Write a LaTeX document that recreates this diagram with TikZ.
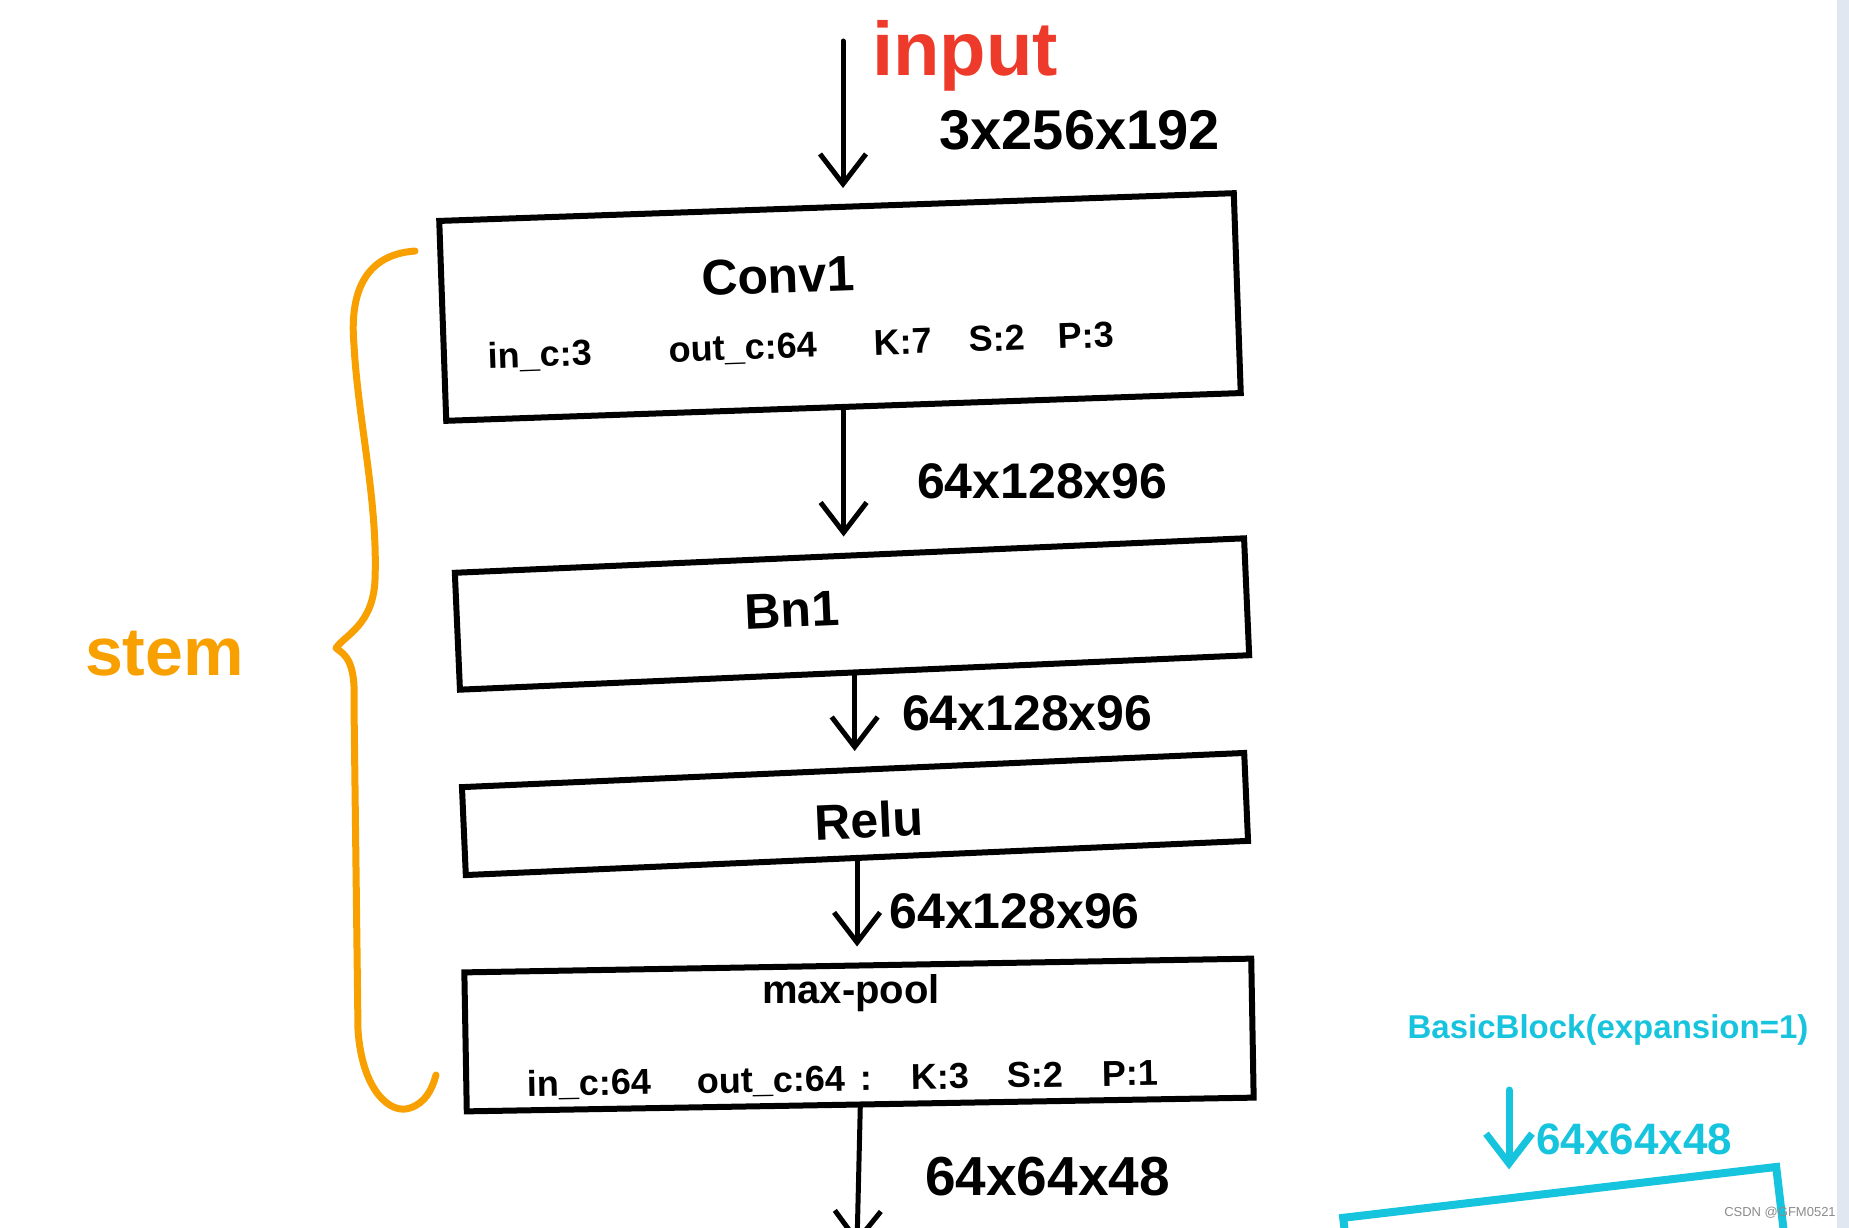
\documentclass[tikz,border=0pt]{standalone}
\usepackage{fontspec}
\setmainfont{Liberation Sans}
\usetikzlibrary{arrows.meta,positioning}
\definecolor{inred}{HTML}{EE3A2A}
\definecolor{stemorange}{HTML}{F7A000}
\definecolor{blockcyan}{HTML}{17C4DE}
\definecolor{stripgray}{HTML}{E1E7F0}
\newcommand{\sizeat}[1]{\fontsize{#1pt}{#1pt}\selectfont\bfseries}
\tikzset{every node/.style={align=center, inner sep=0pt}, >={Straight Barb[length=30pt,width=46pt]},
  layer/.style={draw, line width=6pt},
  title/.style={font=\sizeat{50}},
  parm/.style={font=\sizeat{36}},
  dim/.style={font=\sizeat{50}},
  flow/.style={->, line width=5pt, line cap=round, line join=round, shorten >=16pt}}

\begin{document}
\begin{tikzpicture}[x=1pt, y=-1pt]
\useasboundingbox[fill=white] (0,0) rectangle (1849,1228);
\fill[stripgray] (1837,0) rectangle (1849,1228);

% stem layers
\node[layer, minimum width=795pt, minimum height=200pt, rotate=2] (conv) at (840,307) {};
\node[layer, minimum width=790pt, minimum height=117pt, rotate=2.5] (bn) at (852,614) {};
\node[layer, minimum width=783pt, minimum height=88pt, rotate=2.5] (relu) at (855,814) {};
\node[layer, minimum width=787pt, minimum height=139pt, rotate=1] (pool) at (859,1035) {};

\node[title, rotate=2] (convname) at ([xshift=-62pt,yshift=31pt]conv.center) {Conv1};
\node[parm, rotate=2] (convparm) at ([xshift=-39pt,yshift=-40pt]conv.center)
  {in\_c:3\hspace{77pt}out\_c:64\hspace{57pt}K:7\hspace{37pt}S:2\hspace{33pt}P:3};
\node[title, rotate=2.5] (bnname) at ([xshift=-60pt,yshift=4pt]bn.center) {Bn1};
\node[title, rotate=2.5] (reluname) at ([xshift=14pt,yshift=-6pt]relu.center) {Relu};
\node[parm, font=\sizeat{40}] (poolname) at ([xshift=-8pt,yshift=42pt]pool.center) {max-pool};
\node[parm, rotate=1] (poolparm) at ([xshift=-16pt,yshift=-45pt]pool.center)
  {in\_c:64\hspace{46pt}out\_c:64\hspace{15pt}:\hspace{39pt}K:3\hspace{38pt}S:2\hspace{39pt}P:1};

% shapes between layers
\coordinate (in) at (843,41);
\coordinate (out) at (857,1245);
\node[font=\sizeat{76}, text=inred, right=29pt of in, yshift=-15pt] (inname) {input};
\draw[flow] (in) -- (in |- conv.north) node[dim, font=\sizeat{56}, pos=0.55, right=94pt] {3x256x192};
\draw[flow] (conv.south) -- (conv.south |- bn.north) node[dim, midway, right=71pt] {64x128x96};
\draw[flow] (bn.south) -- (bn.south |- relu.north) node[dim, midway, right=45pt, yshift=8pt] {64x128x96};
\draw[flow] (relu.south) -- (relu.south |- pool.north) node[dim, midway, right=30pt] {64x128x96};
\draw[flow, shorten >=0pt] (pool.south) -- (out) node[dim, font=\sizeat{55}, pos=0.5, right=64pt] {64x64x48};

% stem brace
\coordinate (tip) at (336,648);
\draw[stemorange, line width=7pt, line cap=round, line join=round]
  (415,251) .. controls (360,255) and (350,300) .. (354,345)
  .. controls (358,420) and (378,500) .. (375,580)
  .. controls (373,625) and (345,635) .. (tip)
  .. controls (345,655) and (356,660) .. (354,705)
  -- (358,1030) .. controls (362,1090) and (390,1115) .. (410,1108)
  .. controls (425,1103) and (432,1090) .. (436,1075);
\node[font=\sizeat{68}, text=stemorange, left=92pt of tip, yshift=-6pt] (stem) {stem};

% basic block
\node[draw=blockcyan, line width=8pt, minimum width=436pt, minimum height=400pt, rotate=6.7] (block) at (1583,1391) {};
\node[font=\sizeat{33}, text=blockcyan] (blockname) at (1608,1030) {BasicBlock(expansion=1)};
\coordinate (bbin) at (1509,1090);
\draw[flow, blockcyan, line width=7pt, shorten >=19pt] (bbin) -- (bbin |- block.north)
  node[font=\sizeat{44}, midway, right=24pt] {64x64x48};

\node[font=\fontsize{13pt}{13pt}\selectfont, text=black!45] (credit) at (1780,1213) {CSDN @GFM0521};
\end{tikzpicture}
\end{document}
